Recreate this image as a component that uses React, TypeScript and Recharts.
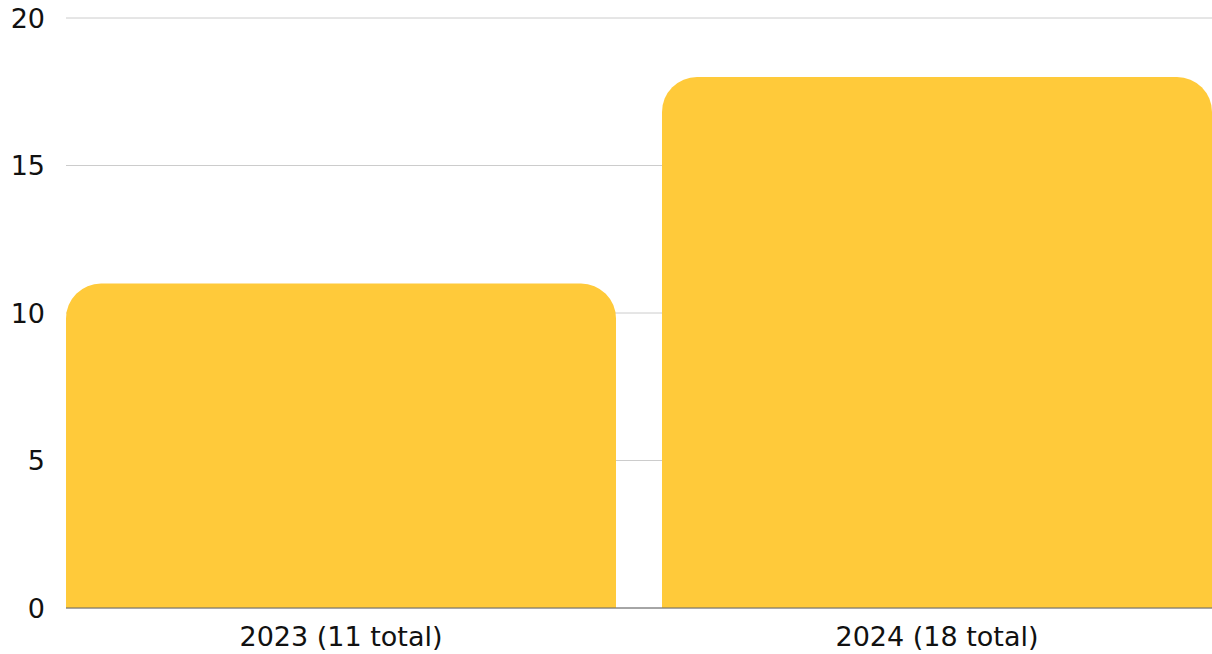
import { BarChart, Bar, XAxis, YAxis, CartesianGrid } from 'recharts';

const years = ['2023 (11 total)', '2024 (18 total)'];
const totals = [11, 18];
const yTicks = [0, 5, 10, 15, 20];

const chartData = years.map((year, i) => ({ year, total: totals[i] }));

const font = '"DejaVu Sans", sans-serif';

export default function App() {
  return (
    <div style={{ position: 'absolute', left: 0, top: 0, width: 1212, height: 654, overflow: 'hidden', fontFamily: font }}>
      <BarChart
        width={1212}
        height={654}
        data={chartData}
        margin={{ top: 18, right: 0, bottom: 0, left: 0 }}
        barCategoryGap={23}
      >
        <CartesianGrid vertical={false} stroke="#cccccc" />
        <XAxis
          dataKey="year"
          height={46}
          padding={{ left: -23, right: -23 }}
          tickLine={false}
          tickSize={0}
          axisLine={{ stroke: '#666666' }}
          tick={{ fill: '#111111', fontSize: 27, fontFamily: font }}
          tickMargin={19}
          interval={0}
        />
        <YAxis
          width={66}
          domain={[0, 20]}
          ticks={yTicks}
          tickLine={false}
          axisLine={false}
          tickSize={0}
          tickMargin={21}
          tick={{ fill: '#111111', fontSize: 27, fontFamily: font }}
        />
        <Bar dataKey="total" fill="#FFCA3A" radius={[35, 35, 0, 0]} isAnimationActive={false} />
      </BarChart>
    </div>
  );
}
